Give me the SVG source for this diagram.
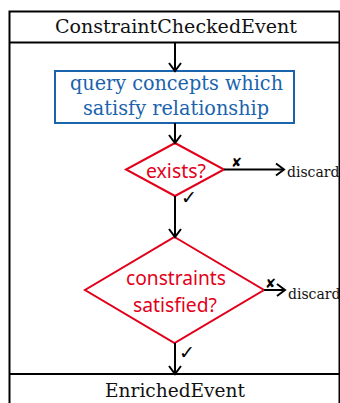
<svg xmlns="http://www.w3.org/2000/svg" width="340" height="403" viewBox="0 0 340 403">
  <style>
    .frame { fill: none; stroke: #000; stroke-width: 2; }
    .title { font-family: "DejaVu Serif", "Liberation Serif", serif; font-size: 19px; fill: #111; text-anchor: middle; }
    .step { fill: #fff; stroke: #1a63ad; stroke-width: 2; }
    .steptext { font-family: "DejaVu Serif", "Liberation Serif", serif; font-size: 20px; fill: #1a63ad; text-anchor: middle; }
    .decision { fill: #fff; stroke: #e2001a; stroke-width: 2; }
    .dectext { font-family: "Noto Sans", "Open Sans", sans-serif; font-size: 19px; fill: #e2001a; text-anchor: middle; }
    .edge { fill: none; stroke: #000; stroke-width: 2; }
    .sink { font-family: "DejaVu Serif", "Liberation Serif", serif; font-size: 14px; fill: #111; }
    .mark { font-family: "DejaVu Sans", sans-serif; fill: #000; }
  </style>
  <defs>
    <marker id="open" markerUnits="userSpaceOnUse" markerWidth="12" markerHeight="14" refX="10" refY="7" orient="auto" overflow="visible">
      <path d="M2,1 L10,7 L2,13" fill="none" stroke="#000" stroke-width="2"/>
    </marker>
  </defs>

  <rect width="340" height="403" fill="#fff"/>

  <!-- outer event frame -->
  <g id="frame">
    <rect class="frame" x="9.5" y="11.5" width="330" height="400"/>
    <line class="frame" x1="9" y1="42.5" x2="340" y2="42.5"/>
    <line class="frame" x1="9" y1="374" x2="340" y2="374"/>
  </g>

  <g id="input-event">
    <text class="title" x="176" y="33" textLength="242" lengthAdjust="spacingAndGlyphs">ConstraintCheckedEvent</text>
  </g>

  <g id="output-event">
    <text class="title" x="175" y="397" textLength="140" lengthAdjust="spacingAndGlyphs">EnrichedEvent</text>
  </g>

  <g id="query">
    <rect class="step" x="55" y="71" width="239" height="52"/>
    <text class="steptext" x="176.5" y="90" textLength="213" lengthAdjust="spacingAndGlyphs">query concepts which</text>
    <text class="steptext" x="176" y="115" textLength="186" lengthAdjust="spacingAndGlyphs">satisfy relationship</text>
  </g>

  <g id="exists">
    <polygon class="decision" points="175,143 224,169.5 175,196 126,169.5"/>
    <text class="dectext" x="176" y="178" textLength="60" lengthAdjust="spacingAndGlyphs">exists?</text>
  </g>

  <g id="satisfied">
    <polygon class="decision" points="174.5,237 264,290 174.5,343 85,290"/>
    <text class="dectext" x="176" y="285" textLength="100" lengthAdjust="spacingAndGlyphs">constraints</text>
    <text class="dectext" x="175" y="312" textLength="84" lengthAdjust="spacingAndGlyphs">satisfied?</text>
  </g>

  <g id="discard-1">
    <text class="sink" x="287" y="177">discard</text>
  </g>

  <g id="discard-2">
    <text class="sink" x="288" y="299">discard</text>
  </g>

  <!-- connectors -->
  <g id="connectors">
    <line class="edge" x1="175" y1="43" x2="175" y2="71" marker-end="url(#open)"/>
    <line class="edge" x1="175" y1="123" x2="175" y2="143" marker-end="url(#open)"/>
    <line class="edge" x1="175" y1="196" x2="175" y2="237" marker-end="url(#open)"/>
    <line class="edge" x1="175" y1="343" x2="175" y2="374" marker-end="url(#open)"/>
    <line class="edge" x1="224" y1="169.5" x2="284" y2="169.5" marker-end="url(#open)"/>
    <line class="edge" x1="264" y1="290" x2="285" y2="290" marker-end="url(#open)"/>
    <text class="mark" x="231" y="167" font-size="13">✘</text>
    <text class="mark" x="181" y="204" font-size="19">✓</text>
    <text class="mark" x="265" y="288" font-size="13">✘</text>
    <text class="mark" x="179" y="359" font-size="19">✓</text>
  </g>
</svg>
